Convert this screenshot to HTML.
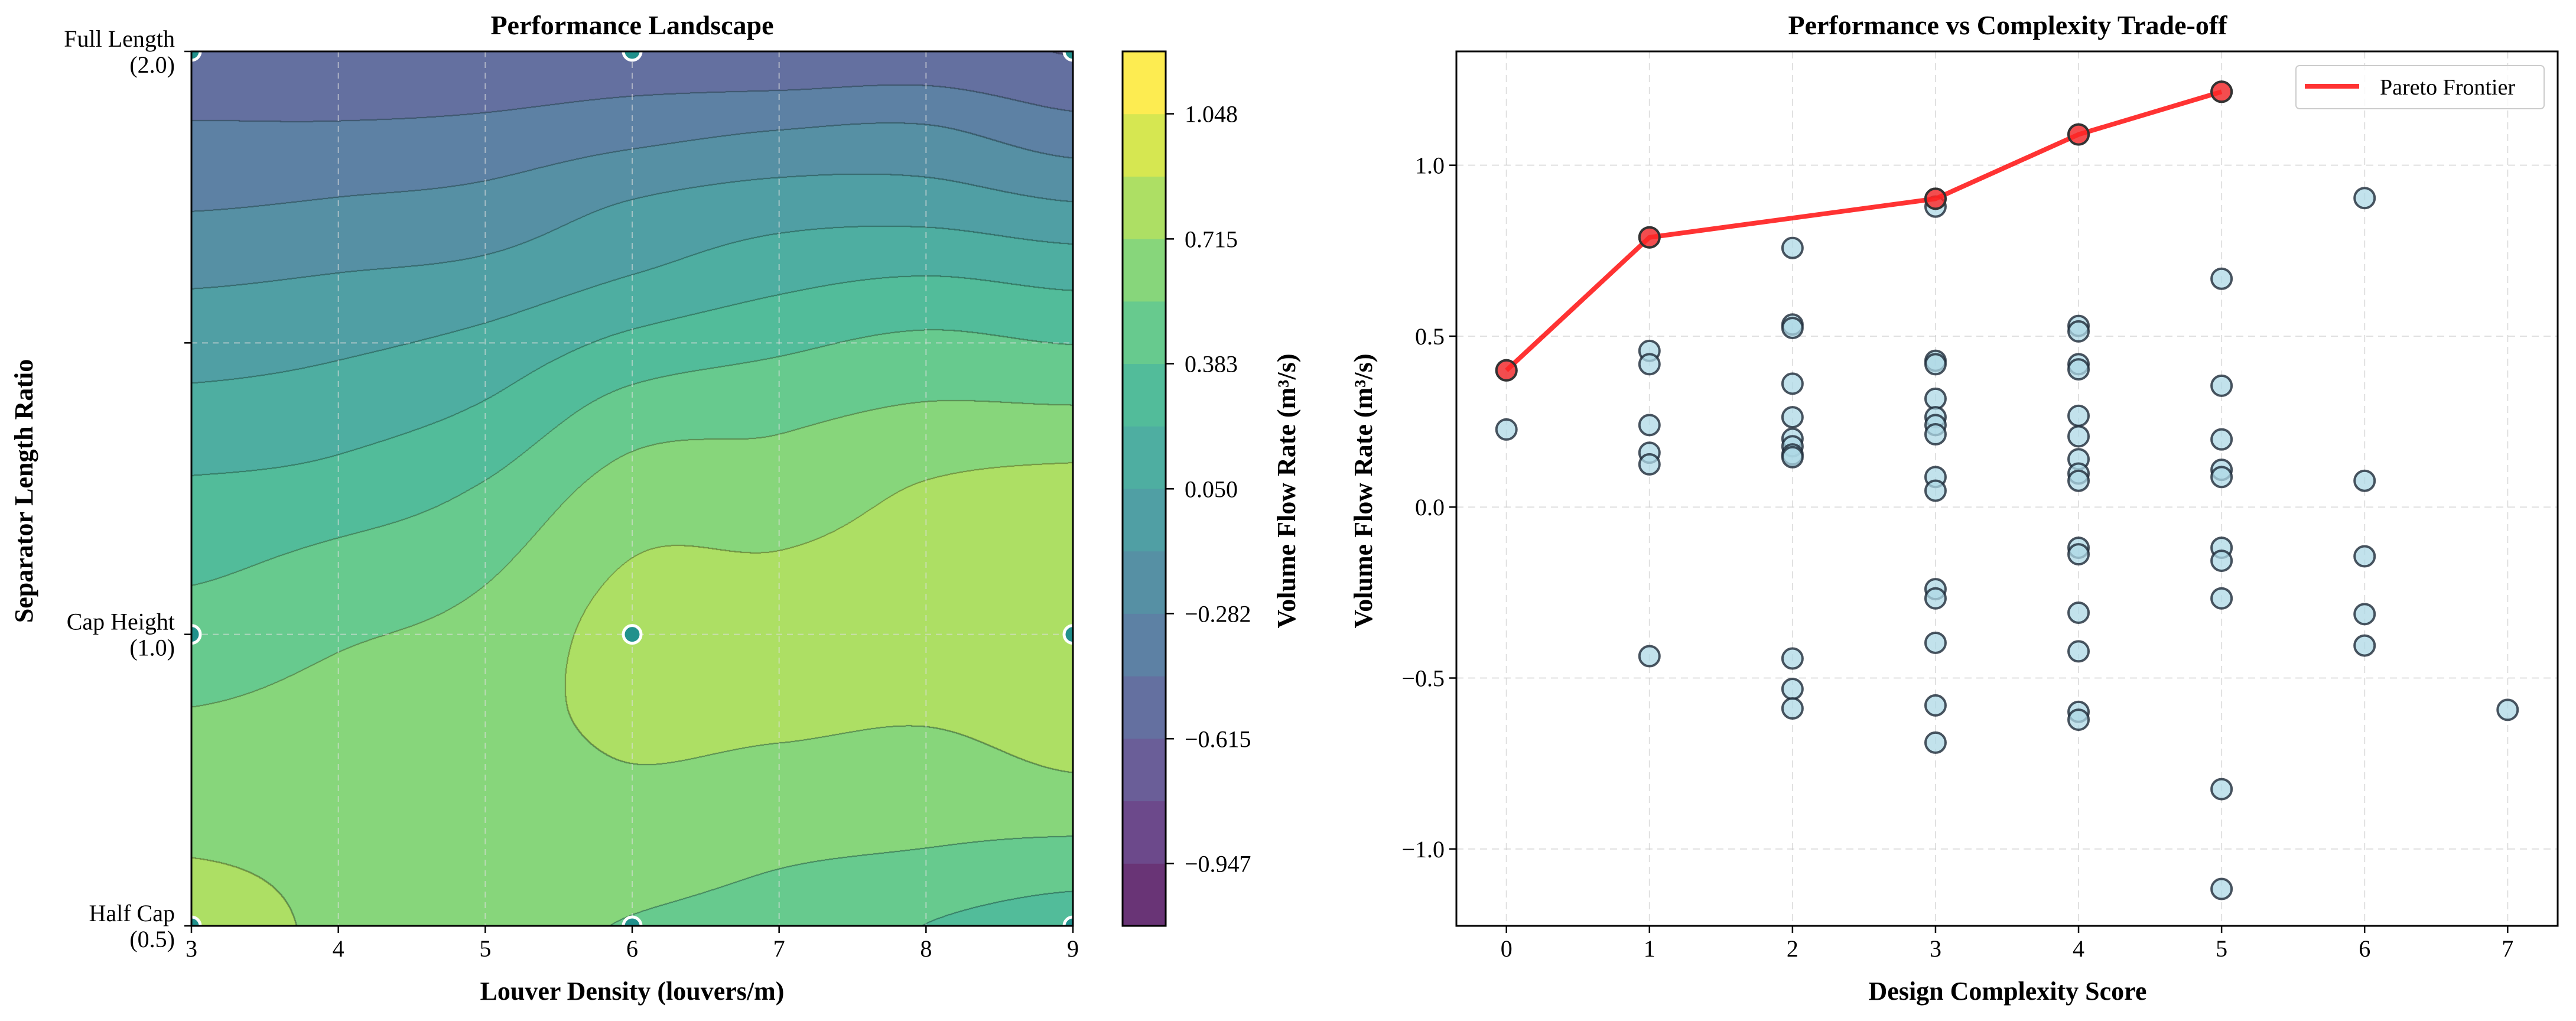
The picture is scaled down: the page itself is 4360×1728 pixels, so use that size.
<!DOCTYPE html>
<html><head><meta charset="utf-8">
<style>
html,body{margin:0;padding:0;background:#fff;}
#wrap{position:relative;width:4360px;height:1728px;overflow:hidden;font-family:"Liberation Serif",serif;}
#cv{position:absolute;left:324px;top:87px;}
svg{position:absolute;left:0;top:0;}
</style></head>
<body>
<div id="wrap">
<canvas id="cv" width="1492" height="1480"></canvas>
<svg id="sv" width="4360" height="1728" xmlns="http://www.w3.org/2000/svg"></svg>
</div>
<script>
// ---------- Data: contour field ----------
const gridX = [3,4,5,6,7,8,9];
const gridY = [2.0,1.875,1.75,1.625,1.5,1.375,1.25,1.125,1.0,0.875,0.75,0.625,0.5];
const fieldRows = [
[-0.55,-0.56,-0.56,-0.55,-0.58,-0.56,-0.62],
[-0.44,-0.44,-0.42,-0.36,-0.30,-0.28,-0.40],
[-0.31,-0.28,-0.24,-0.12,-0.05,-0.05,-0.13],
[-0.15,-0.12,-0.08,0.04,0.15,0.20,0.15],
[-0.02,0.02,0.10,0.26,0.35,0.42,0.38],
[0.11,0.15,0.25,0.47,0.52,0.58,0.58],
[0.24,0.28,0.40,0.62,0.62,0.73,0.78],
[0.35,0.43,0.52,0.72,0.73,0.80,0.87],
[0.45,0.53,0.60,0.78,0.79,0.82,0.87],
[0.55,0.60,0.65,0.76,0.76,0.74,0.80],
[0.63,0.65,0.64,0.70,0.66,0.64,0.70],
[0.71,0.67,0.62,0.63,0.57,0.54,0.50],
[0.80,0.68,0.60,0.54,0.48,0.38,0.30]];
const levelMin = -1.113, levelMax = 1.214, nBands = 14;
const cbTicks = [-0.947,-0.615,-0.282,0.050,0.383,0.715,1.048];
const sampleX = [3,6,9,3,6,9,3,6,9];
const sampleY = [2.0,2.0,2.0,1.0,1.0,1.0,0.5,0.5,0.5];
const leftXTicks = [3,4,5,6,7,8,9];
const leftYTicks = [0.5,1.0,1.5,2.0];
const leftYLabels = [["Half Cap","(0.5)"],["Cap Height","(1.0)"],[],["Full Length","(2.0)"]];
// ---------- Data: scatter ----------
const complexity = [0,0, 1,1,1,1,1,1,1, 2,2,2,2,2,2,2,2,2,2,2,2,
 3,3,3,3,3,3,3,3,3,3,3,3,3,3,3, 4,4,4,4,4,4,4,4,4,4,4,4,4,4,4,4,
 5,5,5,5,5,5,5,5,5,5,5, 6,6,6,6,6, 7];
const flow = [0.40,0.227, 0.789,0.457,0.418,0.24,0.159,0.125,-0.436,
 0.758,0.534,0.524,0.361,0.263,0.20,0.178,0.154,0.146,-0.443,-0.532,-0.589,
 0.902,0.879,0.428,0.418,0.317,0.263,0.24,0.213,0.088,0.048,-0.24,-0.267,-0.397,-0.58,-0.689,
 1.09,0.53,0.514,0.418,0.403,0.267,0.207,0.14,0.098,0.077,-0.119,-0.138,-0.309,-0.422,-0.599,-0.622,
 1.215,0.668,0.355,0.198,0.109,0.088,-0.119,-0.157,-0.267,-0.825,-1.117,
 0.904,0.077,-0.144,-0.313,-0.405, -0.593];
const paretoX = [0,1,3,4,5];
const paretoY = [0.40,0.789,0.902,1.09,1.215];
const rXTicks = [0,1,2,3,4,5,6,7];
const rYTicks = [-1.0,-0.5,0.0,0.5,1.0];

// ---------- helpers ----------
const NS="http://www.w3.org/2000/svg";
const sv=document.getElementById('sv');
function mk(tag,attrs,parent,text){const e=document.createElementNS(NS,tag);for(const k in attrs)e.setAttribute(k,attrs[k]);if(text!==undefined)e.textContent=text;(parent||sv).appendChild(e);return e;}
const vir=[[68,1,84],[72,36,117],[65,68,135],[53,95,141],[42,120,142],[33,145,140],[34,168,132],[68,191,112],[122,209,81],[189,223,38],[253,231,37]];
function viridis(t){t=Math.max(0,Math.min(1,t));const f=t*10,i=Math.min(9,Math.floor(f)),u=f-i;return vir[i].map((c,k)=>c+(vir[i+1][k]-c)*u);}
function bandColor(i){const c=viridis(i/(nBands-1));return c.map(v=>Math.round(v*0.8+255*0.2));}
function rgb(c){return 'rgb('+c.join(',')+')';}

// ---------- left axes ----------
const L={x0:324,x1:1816,y0:87,y1:1567};
const lx=v=>L.x0+(v-3)/6*(L.x1-L.x0);
const ly=v=>L.y1-(v-0.5)/1.5*(L.y1-L.y0);
function cr(p0,p1,p2,p3,t){return 0.5*((2*p1)+(-p0+p2)*t+(2*p0-5*p1+4*p2-p3)*t*t+(-p0+3*p1-3*p2+p3)*t*t*t);}
function fget(r,c){r=Math.max(0,Math.min(gridY.length-1,r));c=Math.max(0,Math.min(gridX.length-1,c));return fieldRows[r][c];}
function field(xv,yv){
  const fc=(xv-gridX[0])/(gridX[1]-gridX[0]);
  const fr=(gridY[0]-yv)/(gridY[0]-gridY[1]);
  const c=Math.min(gridX.length-2,Math.max(0,Math.floor(fc))),r=Math.min(gridY.length-2,Math.max(0,Math.floor(fr)));
  const tc=fc-c,tr=fr-r;const rows=[];
  for(let k=-1;k<3;k++)rows.push(cr(fget(r+k,c-1),fget(r+k,c),fget(r+k,c+1),fget(r+k,c+2),tc));
  return cr(rows[0],rows[1],rows[2],rows[3],tr);
}
(function(){
  const cv=document.getElementById('cv');const W=cv.width,H=cv.height;const ctx=cv.getContext('2d');
  const img=ctx.createImageData(W,H);const band=new Int8Array(W*H);const step=(levelMax-levelMin)/nBands;
  for(let j=0;j<H;j++){const yv=0.5+(H-1-j)/(H-1)*1.5;for(let i=0;i<W;i++){const xv=3+i/(W-1)*6;let b=Math.floor((field(xv,yv)-levelMin)/step);b=Math.max(0,Math.min(nBands-1,b));band[j*W+i]=b;}}
  const cols=[];for(let b=0;b<nBands;b++)cols.push(bandColor(b));
  for(let j=0;j<H;j++)for(let i=0;i<W;i++){const p=j*W+i;let c=cols[band[p]];
    const edge=(i>0&&band[p-1]!==band[p])||(j>0&&band[p-W]!==band[p])||(i>1&&band[p-2]!==band[p])||(j>1&&band[p-2*W]!==band[p]);
    if(edge)c=c.map(v=>Math.round(v*0.65));
    img.data[p*4]=c[0];img.data[p*4+1]=c[1];img.data[p*4+2]=c[2];img.data[p*4+3]=255;}
  ctx.putImageData(img,0,0);
})();
const gL=mk('g',{});
leftXTicks.forEach(v=>mk('line',{x1:lx(v),x2:lx(v),y1:L.y0,y2:L.y1,stroke:'#ddd','stroke-width':2,'stroke-dasharray':'10,8','stroke-opacity':0.6},gL));
leftYTicks.forEach(v=>mk('line',{x1:L.x0,x2:L.x1,y1:ly(v),y2:ly(v),stroke:'#ddd','stroke-width':2,'stroke-dasharray':'10,8','stroke-opacity':0.6},gL));
mk('clipPath',{id:'clipL'}).appendChild(Object.assign(document.createElementNS(NS,'rect'),{}));
const clipRect=document.querySelector('#clipL rect');['x','y','width','height'].forEach((k,i)=>clipRect.setAttribute(k,[L.x0,L.y0,L.x1-L.x0,L.y1-L.y0][i]));
const gS=mk('g',{'clip-path':'url(#clipL)',});
sampleX.forEach((v,i)=>{const c=mk('circle',{cx:lx(v),cy:ly(sampleY[i]),r:15,fill:'#21918c',stroke:'#fff','stroke-width':5},gS);

});
mk('rect',{x:L.x0,y:L.y0,width:L.x1-L.x0,height:L.y1-L.y0,fill:'none',stroke:'#000','stroke-width':3,});
leftXTicks.forEach(v=>{mk('line',{x1:lx(v),x2:lx(v),y1:L.y1,y2:L.y1+12,stroke:'#000','stroke-width':2.5});
 const t=mk('text',{x:lx(v),y:L.y1+52,'text-anchor':'middle','font-size':40},sv,String(v));
 
 });
leftYTicks.forEach((v,i)=>{mk('line',{x1:L.x0-12,x2:L.x0,y1:ly(v),y2:ly(v),stroke:'#000','stroke-width':2.5});
 const lab=leftYLabels[i];if(lab.length){
  const t=mk('text',{x:296,y:ly(v)-8,'text-anchor':'end','font-size':40},sv,lab[0]);
  
  
  const t2=mk('text',{x:296,y:ly(v)+36,'text-anchor':'end','font-size':40},sv,lab[1]);
  
  }});
mk('text',{x:1070,y:58,'text-anchor':'middle','font-size':46,'font-weight':'bold',},sv,'Performance Landscape');
mk('text',{x:1070,y:1692,'text-anchor':'middle','font-size':44,'font-weight':'bold',},sv,'Louver Density (louvers/m)');
mk('text',{x:0,y:0,transform:'translate(55,831) rotate(-90)','text-anchor':'middle','font-size':44,'font-weight':'bold',},sv,'Separator Length Ratio');

// ---------- colorbar ----------
const CB={x0:1900,x1:1973,y0:87,y1:1567};
const cby=v=>CB.y1-(v-levelMin)/(levelMax-levelMin)*(CB.y1-CB.y0);
const gCB=mk('g',{});
const stepL=(levelMax-levelMin)/nBands;
for(let b=0;b<nBands;b++){const r=mk('rect',{x:CB.x0,y:cby(levelMin+(b+1)*stepL),width:CB.x1-CB.x0,height:cby(levelMin+b*stepL)-cby(levelMin+(b+1)*stepL)+0.5,fill:rgb(bandColor(b))},gCB);
 
 }
mk('rect',{x:CB.x0,y:CB.y0,width:CB.x1-CB.x0,height:CB.y1-CB.y0,fill:'none',stroke:'#000','stroke-width':3},gCB);
cbTicks.forEach(v=>{mk('line',{x1:CB.x1,x2:CB.x1+14,y1:cby(v),y2:cby(v),stroke:'#000','stroke-width':2.5},gCB);
 const t=mk('text',{x:2005,y:cby(v)+14,'font-size':40},gCB,v.toFixed(3).replace('-','\u2212'));
 
 });
mk('text',{x:0,y:0,transform:'translate(2192,831) rotate(-90)','text-anchor':'middle','font-size':44,'font-weight':'bold',},sv,'Volume Flow Rate (m³/s)');

// ---------- right axes ----------
const R={x0:2465,x1:4329,y0:87,y1:1567,xmin:-0.35,xmax:7.35,ymin:-1.225,ymax:1.333};
const rx=v=>R.x0+(v-R.xmin)/(R.xmax-R.xmin)*(R.x1-R.x0);
const ry=v=>R.y1-(v-R.ymin)/(R.ymax-R.ymin)*(R.y1-R.y0);
const gR=mk('g',{});
rXTicks.forEach(v=>mk('line',{x1:rx(v),x2:rx(v),y1:R.y0,y2:R.y1,stroke:'#ccc','stroke-width':2,'stroke-dasharray':'12,8','stroke-opacity':0.6},gR));
rYTicks.forEach(v=>mk('line',{x1:R.x0,x2:R.x1,y1:ry(v),y2:ry(v),stroke:'#ccc','stroke-width':2,'stroke-dasharray':'12,8','stroke-opacity':0.6},gR));
const gP=mk('g',{});
complexity.forEach((c,i)=>{const e=mk('circle',{cx:rx(c),cy:ry(flow[i]),r:17,fill:'rgba(173,216,230,0.75)',stroke:'#1e2b38','stroke-width':4,'stroke-opacity':0.8},gP);
 
 });
const gPar=mk('g',{});
mk('polyline',{points:paretoX.map((x,i)=>rx(x)+','+ry(paretoY[i])).join(' '),fill:'none',stroke:'rgba(255,0,0,0.8)','stroke-width':8,'stroke-linejoin':'round'},gPar);
paretoX.forEach((x,i)=>{const e=mk('circle',{cx:rx(x),cy:ry(paretoY[i]),r:17,fill:'rgba(255,40,40,0.8)',stroke:'#333','stroke-width':4},gPar);
 
 });
mk('rect',{x:R.x0,y:R.y0,width:R.x1-R.x0,height:R.y1-R.y0,fill:'none',stroke:'#000','stroke-width':3,});
rXTicks.forEach(v=>{mk('line',{x1:rx(v),x2:rx(v),y1:R.y1,y2:R.y1+12,stroke:'#000','stroke-width':2.5});
 const t=mk('text',{x:rx(v),y:R.y1+52,'text-anchor':'middle','font-size':40},sv,String(v));
 
 });
rYTicks.forEach(v=>{mk('line',{x1:R.x0-12,x2:R.x0,y1:ry(v),y2:ry(v),stroke:'#000','stroke-width':2.5});
 const t=mk('text',{x:R.x0-20,y:ry(v)+14,'text-anchor':'end','font-size':40},sv,v.toFixed(1).replace('-','\u2212'));
 
 });
mk('text',{x:3398,y:58,'text-anchor':'middle','font-size':46,'font-weight':'bold',},sv,'Performance vs Complexity Trade-off');
mk('text',{x:3398,y:1692,'text-anchor':'middle','font-size':44,'font-weight':'bold',},sv,'Design Complexity Score');
mk('text',{x:0,y:0,transform:'translate(2322,831) rotate(-90)','text-anchor':'middle','font-size':44,'font-weight':'bold',},sv,'Volume Flow Rate (m³/s)');
const gLeg=mk('g',{});
mk('rect',{x:3886,y:111,width:420,height:73,rx:6,fill:'#fff','fill-opacity':0.85,stroke:'#ccc','stroke-width':2},gLeg);
mk('line',{x1:3901,x2:3993,y1:146,y2:146,stroke:'rgba(255,0,0,0.8)','stroke-width':8},gLeg);
mk('text',{x:4028,y:160,'font-size':38,},gLeg,'Pareto Frontier');
</script>
</body></html>
